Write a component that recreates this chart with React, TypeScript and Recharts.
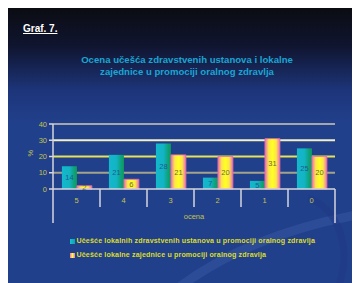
import React from "react";
import {
  BarChart,
  Bar,
  XAxis,
  YAxis,
  CartesianGrid,
  LabelList,
  Legend,
} from "recharts";

const categories = ["5", "4", "3", "2", "1", "0"];
const institutions = [14, 21, 28, 7, 5, 25];
const community = [2, 6, 21, 20, 31, 20];
const yTicks = [0, 10, 20, 30, 40];
// one colour per y tick, the 0 line is the axis itself
const gridColors = ["none", "#a3a38a", "#e6e25a", "#f2efc8", "#a4a6ac"];

const seriesNames = [
  "Učešće lokalnih zdravstvenih ustanova u promociji oralnog zdravlja",
  "Učešće lokalne zajednice u promociji oralnog zdravlja",
];

const data = categories.map((c, i) => ({
  name: c,
  inst: institutions[i],
  comm: community[i],
}));

const W = 352;
const H = 275;
const FONT = "'Liberation Sans', Arial, sans-serif";
const TICK_COLOR = "#c4c44a";

function GridLine(props: any) {
  const { x1, x2, y1, y2, index } = props;
  const color = gridColors[index] ?? "none";
  if (color === "none") return <g />;
  return (
    <line x1={x1} x2={x2} y1={y1} y2={y2} stroke={color} strokeWidth={1.8} />
  );
}

function CategoryTick(props: any) {
  const { x, y, payload, index } = props;
  const half = payload?.offset ?? 23.5;
  const last = index === categories.length - 1;
  return (
    <g>
      <line
        x1={x - half}
        x2={x - half}
        y1={y}
        y2={y + (index === 0 ? 34 : 18)}
        stroke="#d4d6dc"
        strokeWidth={1.5}
      />
      {last && (
        <line
          x1={x + half}
          x2={x + half}
          y1={y}
          y2={y + 34}
          stroke="#d4d6dc"
          strokeWidth={1.5}
        />
      )}
      <text
        x={x}
        y={y + 14}
        textAnchor="middle"
        fill={TICK_COLOR}
        fontSize={7.5}
        fontFamily={FONT}
      >
        {payload.value}
      </text>
    </g>
  );
}

function LegendBox() {
  return (
    <div style={{ fontFamily: FONT }}>
      {seriesNames.map((name, i) => (
        <div
          key={name}
          style={{
            display: "flex",
            alignItems: "center",
            height: 14,
            color: "#dcdc2a",
            fontSize: 7.1,
            fontWeight: "bold",
            letterSpacing: 0.15,
            whiteSpace: "nowrap",
          }}
        >
          <span
            style={{
              display: "inline-block",
              width: 5,
              height: 5,
              marginRight: 1.5,
              background:
                i === 0
                  ? "linear-gradient(90deg,#18c0d4,#10a0a8)"
                  : "linear-gradient(90deg,#f070b8,#ffff40,#f070b8)",
            }}
          />
          {name}
        </div>
      ))}
    </div>
  );
}

export default function App() {
  return (
    <div
      style={{
        position: "relative",
        width: W,
        height: H,
        overflow: "hidden",
        background:
          "linear-gradient(180deg,#0b0c12 0%,#101530 14%,#1d357a 30%,#21408b 42%,#21408c 100%)",
        fontFamily: FONT,
      }}
    >
      <svg
        width={W}
        height={H}
        style={{ position: "absolute", left: 0, top: 0 }}
      >
        <path
          d="M170 280 C 230 235, 300 215, 360 205"
          stroke="rgba(70,100,175,0.35)"
          strokeWidth={9}
          fill="none"
        />
        <path
          d="M300 190 C 330 200, 345 240, 330 280"
          stroke="rgba(30,55,130,0.45)"
          strokeWidth={7}
          fill="none"
        />
      </svg>
      <div
        style={{
          position: "absolute",
          left: 15,
          top: 15,
          color: "#ffffff",
          fontWeight: "bold",
          fontSize: 10,
          textDecoration: "underline",
        }}
      >
        Graf. 7.
      </div>
      <div
        style={{
          position: "absolute",
          left: 0,
          top: 46,
          width: 358,
          textAlign: "center",
          color: "#1aa6d2",
          fontWeight: "bold",
          fontSize: 9.6,
          lineHeight: "12px",
        }}
      >
        Ocena učešća zdravstvenih ustanova i lokalne
        <br />
        zajednice u promociji oralnog zdravlja
      </div>
      <div style={{ position: "absolute", left: 0, top: 0 }}>
        <BarChart
          width={W}
          height={H}
          data={data}
          margin={{ top: 116, right: 25, left: 0, bottom: 0 }}
          barCategoryGap="19%"
          barGap={0}
        >
          <defs>
            <linearGradient id="gTeal" x1="0" y1="0" x2="1" y2="0">
              <stop offset="0%" stopColor="#14b8cc" />
              <stop offset="50%" stopColor="#12b4c4" />
              <stop offset="80%" stopColor="#0ea27c" />
              <stop offset="100%" stopColor="#0c9a5a" />
            </linearGradient>
            <linearGradient id="gPink" x1="0" y1="0" x2="1" y2="0">
              <stop offset="0%" stopColor="#ee6cb4" />
              <stop offset="25%" stopColor="#fbe64a" />
              <stop offset="50%" stopColor="#ffff20" />
              <stop offset="75%" stopColor="#fbe64a" />
              <stop offset="100%" stopColor="#ee6cb4" />
            </linearGradient>
          </defs>
          <CartesianGrid vertical={false} horizontal={<GridLine />} />
          <XAxis
            dataKey="name"
            height={94}
            axisLine={{ stroke: "#d4d6dc", strokeWidth: 1.5 }}
            tickLine={false}
            tickSize={0}
            tickMargin={0}
            interval={0}
            tick={<CategoryTick />}
            label={{
              value: "ocena",
              position: "insideTop",
              offset: 25,
              fill: TICK_COLOR,
              fontSize: 7.5,
              fontFamily: FONT,
            }}
          />
          <YAxis
            width={45}
            domain={[0, 40]}
            ticks={yTicks}
            interval={0}
            axisLine={{ stroke: "#d4d6dc", strokeWidth: 1.5 }}
            tickLine={{ stroke: "#d4d6dc", strokeWidth: 1.5 }}
            tickSize={4}
            tickMargin={2}
            tick={{ fill: TICK_COLOR, fontSize: 7.5, fontFamily: FONT }}
            label={{
              value: "%",
              angle: -90,
              position: "insideLeft",
              offset: 22,
              fill: TICK_COLOR,
              fontSize: 7.5,
              fontFamily: FONT,
            }}
          />
          <Legend
            layout="vertical"
            align="center"
            verticalAlign="middle"
            wrapperStyle={{ left: 62, top: 226, width: 290 }}
            content={<LegendBox />}
          />
          <Bar
            dataKey="inst"
            name={seriesNames[0]}
            fill="url(#gTeal)"
            isAnimationActive={false}
          >
            <LabelList
              dataKey="inst"
              position="center"
              fill="#215a92"
              fontSize={7.5}
              fontFamily={FONT}
            />
          </Bar>
          <Bar
            dataKey="comm"
            name={seriesNames[1]}
            fill="url(#gPink)"
            stroke="#e46aae"
            strokeWidth={0.8}
            isAnimationActive={false}
          >
            <LabelList
              dataKey="comm"
              position="center"
              fill="#6c6a44"
              fontSize={7.5}
              fontFamily={FONT}
            />
          </Bar>
        </BarChart>
      </div>
    </div>
  );
}
